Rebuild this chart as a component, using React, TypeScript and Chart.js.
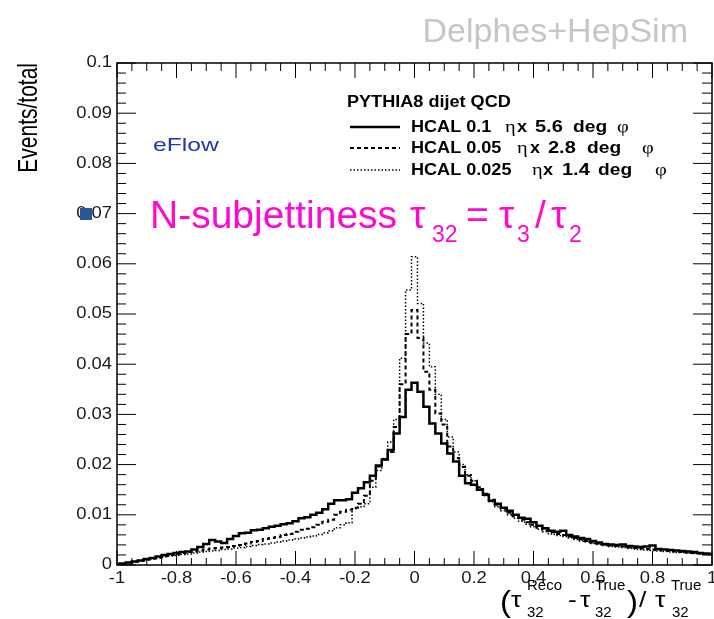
import React, { useEffect, useRef } from 'react';
import { Chart, registerables } from 'chart.js';

Chart.register(...registerables);

// Bin centres from -1 to 1, width 0.02 (101 bins)
const BIN_WIDTH = 0.02;
const binCenters: number[] = Array.from({ length: 101 }, (_, i) => +(-1 + i * BIN_WIDTH).toFixed(2));

// HCAL 0.1 eta x 5.6 deg phi (solid)
const hcal01: number[] = [
  0.0002, 0.0003, 0.0005, 0.0007, 0.0009, 0.0012, 0.0014, 0.0017, 0.0020, 0.0022,
  0.0024, 0.0026, 0.0027, 0.0031, 0.0036, 0.0042, 0.0050, 0.0047, 0.0044, 0.0052,
  0.0058, 0.0063, 0.0064, 0.0069, 0.0070, 0.0073, 0.0076, 0.0078, 0.0081, 0.0083,
  0.0087, 0.0093, 0.0095, 0.0100, 0.0104, 0.0111, 0.0122, 0.0129, 0.0129, 0.0131,
  0.0144, 0.0153, 0.0165, 0.0178, 0.0198, 0.0210, 0.0229, 0.0262, 0.0295, 0.0349,
  0.0363, 0.0345, 0.0315, 0.0282, 0.0262, 0.0242, 0.0222, 0.0206, 0.0178, 0.0163,
  0.0160, 0.0150, 0.0140, 0.0128, 0.0122, 0.0114, 0.0108, 0.0100, 0.0094, 0.0092,
  0.0085, 0.0078, 0.0073, 0.0068, 0.0066, 0.0068, 0.0060, 0.0057, 0.0054, 0.0052,
  0.0048, 0.0045, 0.0042, 0.0041, 0.0040, 0.0041, 0.0038, 0.0037, 0.0036, 0.0037,
  0.0039, 0.0032, 0.0031, 0.0030, 0.0029, 0.0028, 0.0027, 0.0026, 0.0024, 0.0023,
  0.0022,
];

// HCAL 0.05 eta x 2.8 deg phi (dashed)
const hcal005: number[] = [
  0.0002, 0.0003, 0.0005, 0.0007, 0.0009, 0.0011, 0.0013, 0.0015, 0.0018, 0.0020,
  0.0022, 0.0024, 0.0026, 0.0027, 0.0029, 0.0031, 0.0033, 0.0034, 0.0035, 0.0036,
  0.0038, 0.0040, 0.0043, 0.0046, 0.0048, 0.0052, 0.0054, 0.0056, 0.0060, 0.0062,
  0.0066, 0.0070, 0.0072, 0.0075, 0.0080, 0.0086, 0.0090, 0.0100, 0.0106, 0.0110,
  0.0114, 0.0122, 0.0138, 0.0168, 0.0196, 0.0210, 0.0225, 0.0275, 0.0360, 0.0460,
  0.0508, 0.0452, 0.0385, 0.0349, 0.0302, 0.0280, 0.0236, 0.0213, 0.0195, 0.0178,
  0.0168, 0.0155, 0.0142, 0.0130, 0.0120, 0.0112, 0.0104, 0.0097, 0.0090, 0.0085,
  0.0080, 0.0074, 0.0069, 0.0065, 0.0062, 0.0060, 0.0057, 0.0054, 0.0051, 0.0048,
  0.0045, 0.0043, 0.0041, 0.0039, 0.0038, 0.0037, 0.0035, 0.0034, 0.0033, 0.0032,
  0.0031, 0.0030, 0.0029, 0.0028, 0.0027, 0.0026, 0.0025, 0.0024, 0.0023, 0.0022,
  0.0021,
];

// HCAL 0.025 eta x 1.4 deg phi (dotted)
const hcal0025: number[] = [
  0.0001, 0.0002, 0.0004, 0.0006, 0.0008, 0.0010, 0.0012, 0.0014, 0.0016, 0.0018,
  0.0019, 0.0021, 0.0022, 0.0024, 0.0026, 0.0027, 0.0028, 0.0029, 0.0031, 0.0032,
  0.0034, 0.0035, 0.0037, 0.0039, 0.0041, 0.0042, 0.0044, 0.0046, 0.0048, 0.0050,
  0.0052, 0.0054, 0.0056, 0.0058, 0.0061, 0.0064, 0.0068, 0.0074, 0.0080, 0.0084,
  0.0112, 0.0116, 0.0122, 0.0155, 0.0188, 0.0212, 0.0245, 0.0290, 0.0412, 0.0548,
  0.0614, 0.0521, 0.0442, 0.0395, 0.0340, 0.0290, 0.0255, 0.0225, 0.0200, 0.0180,
  0.0168, 0.0152, 0.0138, 0.0126, 0.0116, 0.0108, 0.0100, 0.0093, 0.0087, 0.0081,
  0.0076, 0.0071, 0.0066, 0.0062, 0.0059, 0.0057, 0.0054, 0.0051, 0.0048, 0.0046,
  0.0043, 0.0041, 0.0039, 0.0037, 0.0036, 0.0035, 0.0033, 0.0032, 0.0031, 0.0030,
  0.0029, 0.0028, 0.0027, 0.0026, 0.0025, 0.0025, 0.0024, 0.0023, 0.0022, 0.0021,
  0.0020,
];

const xTickValues: number[] = [-1, -0.8, -0.6, -0.4, -0.2, 0, 0.2, 0.4, 0.6, 0.8, 1];
const yTickValues: number[] = [0, 0.01, 0.02, 0.03, 0.04, 0.05, 0.06, 0.07, 0.08, 0.09, 0.1];
const xTickLabels: string[] = ['-1', '-0.8', '-0.6', '-0.4', '-0.2', '0', '0.2', '0.4', '0.6', '0.8', '1'];
const yTickLabels: string[] = ['0', '0.01', '0.02', '0.03', '0.04', '0.05', '0.06', '0.07', '0.08', '0.09', '0.1'];
const X_MINOR_DIV = 4;
const Y_MINOR_DIV = 5;

const legendTitle = 'PYTHIA8 dijet QCD';
const legendCells: string[] = ['HCAL 0.1', 'HCAL 0.05', 'HCAL 0.025'];
const legendSizes: string[] = ['5.6', '2.8', '1.4'];

const SANS = '"Liberation Sans", Arial, Helvetica, sans-serif';
const SERIF = '"Liberation Serif", "DejaVu Serif", serif';

function histPoints(vals: number[]) {
  const pts = vals.map((v, i) => ({ x: Math.max(-1, binCenters[i] - BIN_WIDTH / 2), y: v }));
  pts.push({ x: 1, y: vals[vals.length - 1] });
  return pts;
}

const rootStylePlugin = {
  id: 'rootStyle',
  afterDraw(chart: any) {
    const { ctx, chartArea, scales } = chart;
    const { left, right, top, bottom } = chartArea;
    const xs = scales.x;
    const ys = scales.y;
    ctx.save();

    // Frame
    ctx.strokeStyle = '#000';
    ctx.lineWidth = 1.5;
    ctx.strokeRect(left, top, right - left, bottom - top);

    const seg = (x1: number, y1: number, x2: number, y2: number) => {
      ctx.beginPath();
      ctx.moveTo(x1, y1);
      ctx.lineTo(x2, y2);
      ctx.stroke();
    };
    ctx.lineWidth = 1;
    // X ticks (inward, bottom and top)
    for (let i = 0; i < xTickValues.length; i++) {
      const px = xs.getPixelForValue(xTickValues[i]);
      seg(px, bottom, px, bottom - 14);
      seg(px, top, px, top + 15);
      if (i < xTickValues.length - 1) {
        const step = (xTickValues[i + 1] - xTickValues[i]) / X_MINOR_DIV;
        for (let k = 1; k < X_MINOR_DIV; k++) {
          const mx = xs.getPixelForValue(xTickValues[i] + k * step);
          seg(mx, bottom, mx, bottom - 7);
          seg(mx, top, mx, top + 8);
        }
      }
    }
    // Y ticks (inward, left and right)
    for (let i = 0; i < yTickValues.length; i++) {
      const py = ys.getPixelForValue(yTickValues[i]);
      seg(left, py, left + 19, py);
      seg(right, py, right - 19, py);
      if (i < yTickValues.length - 1) {
        const step = (yTickValues[i + 1] - yTickValues[i]) / Y_MINOR_DIV;
        for (let k = 1; k < Y_MINOR_DIV; k++) {
          const my = ys.getPixelForValue(yTickValues[i] + k * step);
          seg(left, my, left + 9, my);
          seg(right, my, right - 10, my);
        }
      }
    }

    // text helper with horizontal stretch
    const txt = (
      s: string, x: number, y: number, font: string, color: string,
      align: CanvasTextAlign = 'left', sx = 1, baseline: CanvasTextBaseline = 'alphabetic'
    ) => {
      ctx.save();
      ctx.translate(x, y);
      ctx.scale(sx, 1);
      ctx.font = font;
      ctx.fillStyle = color;
      ctx.textAlign = align;
      ctx.textBaseline = baseline;
      ctx.fillText(s, 0, 0);
      ctx.restore();
    };

    // Tick labels
    xTickValues.forEach((v, i) => {
      txt(xTickLabels[i], xs.getPixelForValue(v), 583, `16px ${SANS}`, '#1a1a1a', 'center', 1.15);
    });
    yTickValues.forEach((v, i) => {
      txt(yTickLabels[i], left - 5, ys.getPixelForValue(v), `16px ${SANS}`, '#1a1a1a', 'right', 1.15, 'middle');
    });

    // Watermark
    txt('Delphes+HepSim', 688, 42, `34px ${SANS}`, '#c6c6c6', 'right');

    // Y-axis title (rotated, stretched across)
    ctx.save();
    ctx.translate(37, 63);
    ctx.rotate(-Math.PI / 2);
    ctx.scale(1, 1.3);
    ctx.font = `21px ${SANS}`;
    ctx.fillStyle = '#000';
    ctx.textAlign = 'right';
    ctx.textBaseline = 'alphabetic';
    ctx.fillText('Events/total', 0, 0);
    ctx.restore();

    // eFlow
    txt('eFlow', 153, 151, `19px ${SANS}`, '#1f35b5', 'left', 1.3);

    // Legend
    const LB = `bold 16px ${SANS}`;
    const LS = `17px ${SERIF}`;
    txt(legendTitle, 347, 107, LB, '#000', 'left', 1.13);
    const lineYs = [127, 148, 170];
    const textYs = [132, 153, 175];
    const etaX = [505, 517, 532];
    const xX = [517, 530, 543];
    const numX = [535, 548, 562];
    const degX = [573, 587, 598];
    const phiX = [617, 642, 655];
    chart.data.datasets.forEach((ds: any, i: number) => {
      ctx.save();
      ctx.strokeStyle = ds.borderColor;
      ctx.lineWidth = ds.borderWidth;
      ctx.setLineDash(ds.borderDash || []);
      seg(350, lineYs[i], 400, lineYs[i]);
      ctx.restore();
      txt(legendCells[i], 411, textYs[i], LB, '#000', 'left', 1.13);
      txt('\u03B7', etaX[i], textYs[i], LS, '#000', 'left', 1.2);
      txt('x', xX[i], textYs[i], LB, '#000', 'left', 1.13);
      txt(legendSizes[i], numX[i], textYs[i], LB, '#000', 'left', 1.25);
      txt('deg', degX[i], textYs[i], LB, '#000', 'left', 1.2);
      txt('\u03C6', phiX[i], textYs[i], LS, '#000', 'left', 1.2);
    });

    // Magenta annotation
    const mag = '#ff0acc';
    const MB = `39px ${SANS}`;
    const MS = `23px ${SANS}`;
    txt('N-subjettiness', 150, 228, MB, mag);
    txt('\u03C4', 410, 228, MB, mag);
    txt('32', 432, 242, MS, mag);
    txt('=', 466, 228, MB, mag);
    txt('\u03C4', 499, 228, MB, mag);
    txt('3', 517, 242, MS, mag);
    txt('/', 535, 228, MB, mag);
    txt('\u03C4', 551, 228, MB, mag);
    txt('2', 569, 242, MS, mag);

    // Blue marker square
    ctx.fillStyle = '#2b5797';
    ctx.fillRect(80, 208, 12, 12);

    // X-axis title
    const big = `22px ${SANS}`;
    const paren = `30px ${SANS}`;
    const small = `15px ${SANS}`;
    txt('(', 500, 612, paren, '#000', 'left', 1.1);
    txt('\u03C4', 511, 607, big, '#000', 'left', 1.2);
    txt('Reco', 527, 590, small, '#000');
    txt('32', 527, 617, small, '#000');
    txt('-', 568, 607, big, '#000', 'left', 1.2);
    txt('\u03C4', 580, 607, big, '#000', 'left', 1.2);
    txt('True', 595, 590, small, '#000');
    txt('32', 595, 617, small, '#000');
    txt(')', 627, 612, paren, '#000', 'left', 1.1);
    txt('/', 639, 607, big, '#000', 'left', 1.2);
    txt('\u03C4', 655, 607, big, '#000', 'left', 1.2);
    txt('True', 671, 590, small, '#000');
    txt('32', 672, 617, small, '#000');

    ctx.restore();
  },
};

export default function App() {
  const ref = useRef<HTMLCanvasElement>(null);

  useEffect(() => {
    if (!ref.current) return;
    const chart = new Chart(ref.current, {
      type: 'line',
      data: {
        datasets: [
          {
            label: 'HCAL 0.1',
            data: histPoints(hcal01),
            borderColor: '#000',
            borderWidth: 2.5,
            stepped: true,
            pointRadius: 0,
            fill: false,
          },
          {
            label: 'HCAL 0.05',
            data: histPoints(hcal005),
            borderColor: '#000',
            borderWidth: 2,
            borderDash: [4, 3],
            stepped: true,
            pointRadius: 0,
            fill: false,
          },
          {
            label: 'HCAL 0.025',
            data: histPoints(hcal0025),
            borderColor: '#000',
            borderWidth: 1.5,
            borderDash: [1.5, 2],
            stepped: true,
            pointRadius: 0,
            fill: false,
          },
        ],
      },
      options: {
        responsive: false,
        animation: false,
        devicePixelRatio: 1,
        layout: { padding: { left: 0, right: 2, top: 63, bottom: 0 } },
        plugins: { legend: { display: false }, tooltip: { enabled: false } },
        scales: {
          x: {
            type: 'linear',
            min: -1,
            max: 1,
            grid: { display: false, drawTicks: false },
            border: { display: false },
            afterBuildTicks: (scale: any) => {
              scale.ticks = xTickValues.map((v) => ({ value: v }));
            },
            afterFit: (scale: any) => {
              scale.height = 54;
              scale.paddingLeft = 0;
              scale.paddingRight = 0;
            },
            ticks: { display: false },
          },
          y: {
            type: 'linear',
            min: 0,
            max: 0.1,
            grid: { display: false, drawTicks: false },
            border: { display: false },
            afterBuildTicks: (scale: any) => {
              scale.ticks = yTickValues.map((v) => ({ value: v }));
            },
            afterFit: (scale: any) => {
              scale.width = 117;
              scale.paddingTop = 0;
              scale.paddingBottom = 0;
            },
            ticks: { display: false },
          },
        },
      },
      plugins: [rootStylePlugin],
    } as any);
    return () => chart.destroy();
  }, []);

  return (
    <div style={{ position: 'absolute', left: 0, top: 0, width: 714, height: 619, background: '#fff' }}>
      <canvas ref={ref} width={714} height={619} style={{ display: 'block' }} />
    </div>
  );
}
